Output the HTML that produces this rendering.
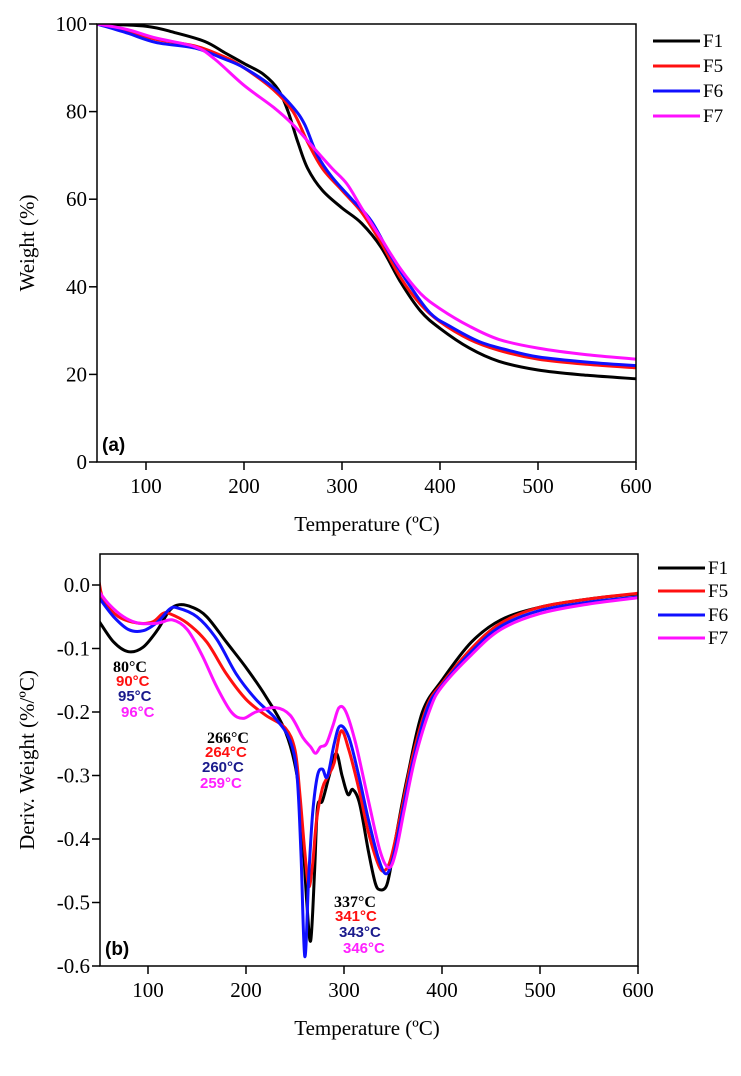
<!DOCTYPE html>
<html><head><meta charset="utf-8"><style>
html,body{margin:0;padding:0;background:#fff;}
svg{display:block;font-family:"Liberation Serif",serif;}
</style></head><body>
<svg id="fig" width="741" height="1076" viewBox="0 0 741 1076" xmlns="http://www.w3.org/2000/svg"></svg>
<script>
// ---------- Panel (a): TGA weight ----------
const a_F1_T=[50,100,130,160,180,200,220,235,245,255,265,280,300,320,340,360,380,400,430,460,500,550,600];
const a_F1_W=[100,99.5,98,96,93.5,91,88.5,85,80,73,67,62,58,54.5,49,41,34.5,30.5,26,23,21,19.8,19];
const a_F5_T=[50,80,110,150,180,200,230,250,265,280,300,320,340,360,380,400,430,460,500,550,600];
const a_F5_W=[100,98.5,96.5,95,92.5,90,85,80,73,67,62,57,50,42,36,32,28,25.5,23.5,22.3,21.5];
const a_F6_T=[50,80,110,150,180,200,230,250,262,275,290,310,330,350,370,390,410,440,470,500,550,600];
const a_F6_W=[100,98,95.8,94.5,92,90,85.5,81,77,70,65,60,55,47,40,34,31,27.5,25.5,24,22.8,22];
const a_F7_T=[50,80,110,150,170,200,230,250,270,290,305,320,340,360,380,400,430,460,500,550,600];
const a_F7_W=[100,98.8,96.8,94.8,92,86,81,77,72,67,63.5,58,51,44,38.5,35,31,28,26,24.5,23.5];
const a_xTicks=[100,200,300,400,500,600];
const a_yTicks=[0,20,40,60,80,100];

// ---------- Panel (b): DTG ----------
const b_F1_T=[50,65,80,95,110,122,132,145,160,180,200,220,240,252,258,262,266,270,273,278,285,292,298,304,309,316,325,332,337,343,347,355,365,380,400,430,460,500,550,600];
const b_F1_D=[-0.057,-0.09,-0.105,-0.098,-0.07,-0.04,-0.031,-0.035,-0.05,-0.09,-0.13,-0.175,-0.23,-0.3,-0.4,-0.5,-0.56,-0.45,-0.35,-0.34,-0.3,-0.265,-0.3,-0.33,-0.322,-0.345,-0.42,-0.47,-0.48,-0.475,-0.45,-0.38,-0.3,-0.2,-0.15,-0.09,-0.055,-0.035,-0.022,-0.014];
const b_F5_T=[50,55,70,90,105,115,122,140,160,180,200,220,240,250,255,260,264,268,272,278,284,290,297,305,315,325,335,341,348,358,370,385,400,430,460,500,550,600];
const b_F5_D=[0.005,-0.025,-0.05,-0.06,-0.058,-0.045,-0.045,-0.06,-0.09,-0.14,-0.18,-0.205,-0.225,-0.26,-0.33,-0.42,-0.475,-0.44,-0.37,-0.32,-0.3,-0.28,-0.23,-0.26,-0.32,-0.39,-0.44,-0.45,-0.43,-0.36,-0.27,-0.19,-0.155,-0.1,-0.06,-0.035,-0.022,-0.013];
const b_F6_T=[50,65,80,95,110,122,130,150,170,190,210,230,245,252,256,260,264,268,273,278,283,290,296,305,315,325,335,343,350,358,370,385,400,430,460,500,550,600];
const b_F6_D=[-0.02,-0.05,-0.07,-0.072,-0.058,-0.038,-0.036,-0.05,-0.085,-0.14,-0.18,-0.21,-0.245,-0.3,-0.42,-0.585,-0.46,-0.36,-0.3,-0.29,-0.302,-0.25,-0.222,-0.24,-0.3,-0.37,-0.43,-0.455,-0.43,-0.37,-0.28,-0.195,-0.158,-0.105,-0.065,-0.04,-0.027,-0.019];
const b_F7_T=[50,60,75,90,110,125,140,155,170,185,197,210,230,245,258,266,271,276,282,289,295,302,312,325,337,346,353,362,373,388,400,430,460,500,550,600];
const b_F7_D=[-0.01,-0.03,-0.05,-0.06,-0.06,-0.055,-0.07,-0.11,-0.16,-0.2,-0.21,-0.2,-0.193,-0.205,-0.24,-0.255,-0.265,-0.255,-0.25,-0.22,-0.193,-0.2,-0.25,-0.34,-0.42,-0.445,-0.42,-0.35,-0.27,-0.195,-0.16,-0.11,-0.07,-0.045,-0.03,-0.02];
const b_xTicks=[100,200,300,400,500,600];
const b_yTicks=[0,-0.1,-0.2,-0.3,-0.4,-0.5,-0.6];
const b_yTickLabels=["0.0","-0.1","-0.2","-0.3","-0.4","-0.5","-0.6"];

const seriesNames=["F1","F5","F6","F7"];
const colors=["#000000","#ff1010","#1010ff","#ff10ff"];

const NS="http://www.w3.org/2000/svg";
const svg=document.getElementById('fig');
function mk(tag,attrs,parent){const e=document.createElementNS(NS,tag);for(const k in attrs)e.setAttribute(k,attrs[k]);(parent||svg).appendChild(e);return e;}

const ax={x:t=>146+(t-100)*0.98, y:v=>462-v*4.38, L:97,R:636,T:24,B:462};
const bx={x:t=>148+(t-100)*0.98, y:v=>585-v*635, L:100,R:638,T:554,B:966};

function smoothPath(xs,ys){
  let d="M"+xs[0].toFixed(1)+","+ys[0].toFixed(1);
  for(let i=0;i<xs.length-1;i++){
    const x0=xs[Math.max(i-1,0)],y0=ys[Math.max(i-1,0)];
    const x1=xs[i],y1=ys[i],x2=xs[i+1],y2=ys[i+1];
    const x3=xs[Math.min(i+2,xs.length-1)],y3=ys[Math.min(i+2,xs.length-1)];
    const c1x=x1+(x2-x0)/6,c1y=y1+(y2-y0)/6,c2x=x2-(x3-x1)/6,c2y=y2-(y3-y1)/6;
    d+=" C"+c1x.toFixed(1)+","+c1y.toFixed(1)+" "+c2x.toFixed(1)+","+c2y.toFixed(1)+" "+x2.toFixed(1)+","+y2.toFixed(1);
  }
  return d;
}

function panel(A,id,xTicks,yTicks,yLabels,series,yTitle,tag){
  const g=mk('g',{});
  
  
  const cp=mk('clipPath',{id:'clip-'+id},g);
  mk('rect',{x:A.L,y:A.T,width:A.R-A.L,height:A.B-A.T},cp);
  const lg=mk('g',{'clip-path':'url(#clip-'+id+')'},g);
  series.forEach((s,i)=>{
    const p=mk('path',{d:smoothPath(s[0].map(A.x),s[1].map(A.y)),fill:'none',stroke:colors[i],'stroke-width':3,'stroke-linejoin':'round'},lg);
    
    
  });
  const fr=mk('rect',{x:A.L,y:A.T,width:A.R-A.L,height:A.B-A.T,fill:'none',stroke:'#000','stroke-width':1.5},g);
  
  
  xTicks.forEach(t=>{
    const x=A.x(t);
    mk('line',{x1:x,x2:x,y1:A.B,y2:A.B+8,stroke:'#000','stroke-width':1.5},g);
    const tx=mk('text',{x:x,y:A.B+31,'text-anchor':'middle','font-size':21},g);
    tx.textContent=t;
    
    
  });
  yTicks.forEach((v,i)=>{
    const y=A.y(v);
    mk('line',{x1:A.L-8,x2:A.L,y1:y,y2:y,stroke:'#000','stroke-width':1.5},g);
    const tx=mk('text',{x:A.L-10,y:y+7,'text-anchor':'end','font-size':21},g);
    tx.textContent=yLabels[i];
    
    
  });
  const xt=mk('text',{x:367,y:A.B+69,'text-anchor':'middle','font-size':21},g);
  xt.textContent='Temperature (ºC)';
  
  
  const cy=(A.T+A.B)/2;
  const yt=mk('text',{x:0,y:0,'text-anchor':'middle','font-size':21,transform:'translate(34,'+cy+') rotate(-90)'},g);
  yt.textContent=yTitle;
  
  
  const pl=mk('text',{x:A.L+5,y:A.B-11,'font-size':19,'font-weight':'bold','font-family':'Liberation Sans, sans-serif'},g);
  pl.textContent=tag;
  
  
  const legY=id==='a'?[41,66,91,116]:[568,591,615,638];
  const lx=id==='a'?653:658;
  seriesNames.forEach((n,i)=>{
    const le=mk('g',{},g);
    
    
    mk('line',{x1:lx,x2:lx+47,y1:legY[i],y2:legY[i],stroke:colors[i],'stroke-width':3},le);
    const t=mk('text',{x:lx+50,y:legY[i]+6,'font-size':19},le);
    t.textContent=n;
  });
}

panel(ax,'a',a_xTicks,a_yTicks,a_yTicks.map(String),
  [[a_F1_T,a_F1_W],[a_F5_T,a_F5_W],[a_F6_T,a_F6_W],[a_F7_T,a_F7_W]],'Weight (%)','(a)');
panel(bx,'b',b_xTicks,b_yTicks,b_yTickLabels,
  [[b_F1_T,b_F1_D],[b_F5_T,b_F5_D],[b_F6_T,b_F6_D],[b_F7_T,b_F7_D]],'Deriv. Weight (%/ºC)','(b)');

const annColors=["#000000","#ff1010","#1a1a8c","#ff20ff"];
const annGroups=[
  {x:[113,116,118,121],y:[672,686,701,717],t:["80°C","90°C","95°C","96°C"]},
  {x:[207,205,202,200],y:[743,757,772,788],t:["266°C","264°C","260°C","259°C"]},
  {x:[334,335,339,343],y:[907,921,937,953],t:["337°C","341°C","343°C","346°C"]}
];
annGroups.forEach((gp,gi)=>{
  gp.t.forEach((s,i)=>{
    const serif=i===0;
    const e=mk('text',{x:gp.x[i],y:gp.y[i],fill:annColors[i],'font-size':serif?16:15,'font-weight':'bold','font-family':serif?'Liberation Serif, serif':'Liberation Sans, sans-serif'});
    e.textContent=s;
    
    
  });
});
</script>
</body></html>
